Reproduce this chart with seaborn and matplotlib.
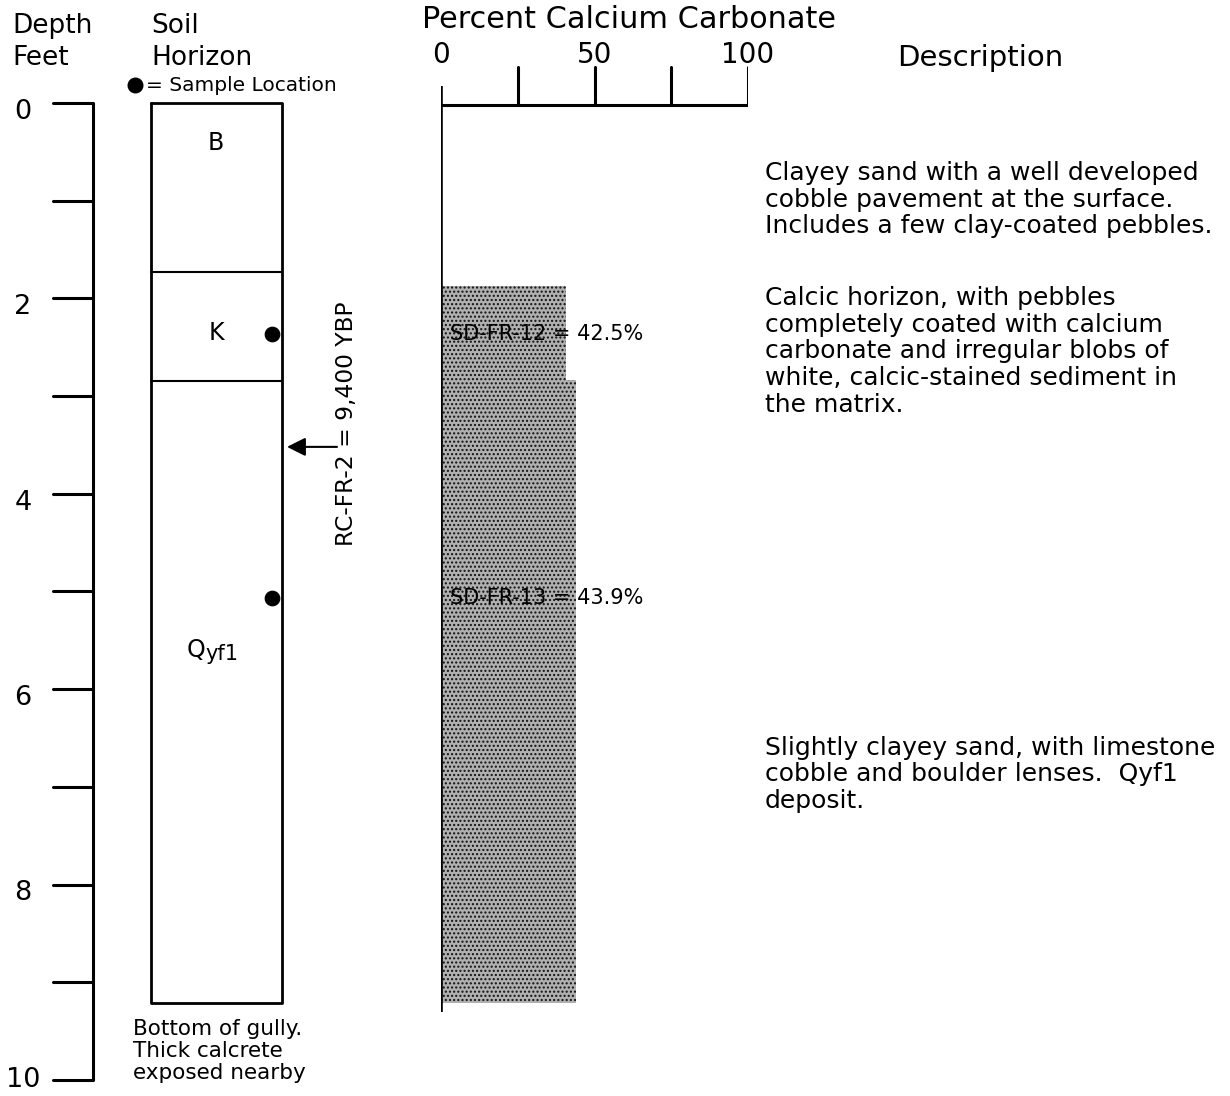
import matplotlib
matplotlib.use("Agg")
import matplotlib.pyplot as plt
import seaborn as sns
import pandas as pd

depth_ticks = list(range(0, 11))
depth_labels = [0, 2, 4, 6, 8, 10]

horizon_names = ["B", "K", "Qyf1"]
horizon_tops = [0.0, 1.73, 2.85]
horizon_bottom = 9.21
horizon_label_depth = [0.41, 2.35, 5.6]

sample_depths = [2.36, 5.07]

carb_top = [1.87, 2.84]
carb_bottom = [2.84, 9.21]
carb_pct = [40.7, 43.9]
carb_labels = ["SD-FR-12 = 42.5%", "SD-FR-13 = 43.9%"]

pct_ticks = [0, 25, 50, 75, 100]
pct_labels = [0, 50, 100]

date_depth = 3.52
date_label = "RC-FR-2 = 9,400 YBP"

descriptions = [
    ["Clayey sand with a well developed",
     "cobble pavement at the surface.",
     "Includes a few clay-coated pebbles."],
    ["Calcic horizon, with pebbles",
     "completely coated with calcium",
     "carbonate and irregular blobs of",
     "white, calcic-stained sediment in",
     "the matrix."],
    ["Slightly clayey sand, with limestone",
     "cobble and boulder lenses.  Qyf1",
     "deposit."],
]
desc_depth = [0.79, 2.07, 6.67]

bottom_note = "Bottom of gully.\nThick calcrete\nexposed nearby"

sns.set_theme(style="white")
plt.rcParams["font.family"] = ["DejaVu Sans"]
plt.rcParams["text.color"] = "black"
plt.rcParams["hatch.linewidth"] = 1.0

fig = plt.figure(figsize=(12.3, 10.96), dpi=100)
ymin, ymax = -1.054, 10.164

# main axes: x in layout units, y in feet
ax = fig.add_axes([0, 0, 1, 1])
ax.set_xlim(0, 1230)
ax.set_ylim(ymax, ymin)
ax.axis("off")

# percent axes for the carbonate bars
bx = fig.add_axes([441 / 1230, 0, 307 / 1230, 1])
bx.set_xlim(0, 100)
bx.set_ylim(ymax, ymin)
bx.axis("off")
bx.patch.set_alpha(0)

k = "black"

# depth scale
ax.plot([93, 93], [0, 10], color=k, lw=2.2, solid_capstyle="butt")
for d in depth_ticks:
    ax.plot([53, 93], [d, d], color=k, lw=2.2)
for d in depth_labels:
    off = 0.09 if d < 10 else 0.0
    ax.text(23, d + off, str(d), ha="center", va="center", fontsize=19.5)

ax.text(12, -0.72, "Depth", fontsize=19, va="baseline")
ax.text(12, -0.39, "Feet", fontsize=19, va="baseline")
ax.text(151, -0.72, "Soil", fontsize=19, va="baseline")
ax.text(151, -0.39, "Horizon", fontsize=19, va="baseline")

# soil column
ax.plot([151, 151, 282, 282, 151], [0, horizon_bottom, horizon_bottom, 0, 0],
        color=k, lw=2)
for t in horizon_tops[1:]:
    ax.plot([151, 282], [t, t], color=k, lw=1.5)
for name, d in zip(horizon_names, horizon_label_depth):
    if name == "Qyf1":
        ax.text(187, d, "Q", fontsize=17, va="center", ha="left")
        ax.text(205, d + 0.04, "yf1", fontsize=15, va="center", ha="left")
    else:
        ax.text(216, d, name, fontsize=17, ha="center", va="center")

pts = pd.DataFrame({"x": [272] * len(sample_depths), "depth": sample_depths})
sns.scatterplot(data=pts, x="x", y="depth", ax=ax, color=k, s=110,
                edgecolor=k, legend=False, zorder=5)
ax.scatter([135], [-0.18], color=k, s=110, zorder=5)
ax.text(146, -0.126, "= Sample Location", fontsize=14.5, va="baseline")

ax.text(133, 9.38, bottom_note, fontsize=15.5, va="top", linespacing=1.1)

# dated sample arrow
ax.annotate("", xy=(287, date_depth), xytext=(337, date_depth),
            arrowprops=dict(arrowstyle="-|>", color=k, lw=1.5,
                            mutation_scale=28, shrinkA=0, shrinkB=0))
ax.text(347, 3.28, date_label, rotation=90, fontsize=16.8,
        ha="center", va="center")

# carbonate profile
for top, bot, p in zip(carb_top, carb_bottom, carb_pct):
    bx.barh(y=(top + bot) / 2, width=p, height=bot - top, left=0,
            color="#b0b0b0", edgecolor="#111111", hatch="....", lw=0,
            align="center")
for lab, d in zip(carb_labels, sample_depths):
    bx.text(2.9, d, lab, fontsize=15, va="center", ha="left")

bx.plot([0, 0], [-0.174, 9.30], color=k, lw=2.6, solid_capstyle="butt")
bx.plot([0, 100], [0.02, 0.02], color=k, lw=2.2)
for p in pct_ticks[1:]:
    bx.plot([p, p], [0.02, -0.37], color=k, lw=2.2)
for p in pct_labels:
    bx.text(p, -0.49, str(p), fontsize=20, ha="center", va="center", clip_on=False)

ax.text(422, -0.77, "Percent Calcium Carbonate", fontsize=21.8, va="baseline")
ax.text(980, -0.38, "Description", fontsize=21, ha="center", va="baseline")

line_step = 0.272
for lines, d in zip(descriptions, desc_depth):
    for i, line in enumerate(lines):
        ax.text(765, d + i * line_step, line, fontsize=18, va="baseline", ha="left")

fig.savefig("out.png", dpi=100)
